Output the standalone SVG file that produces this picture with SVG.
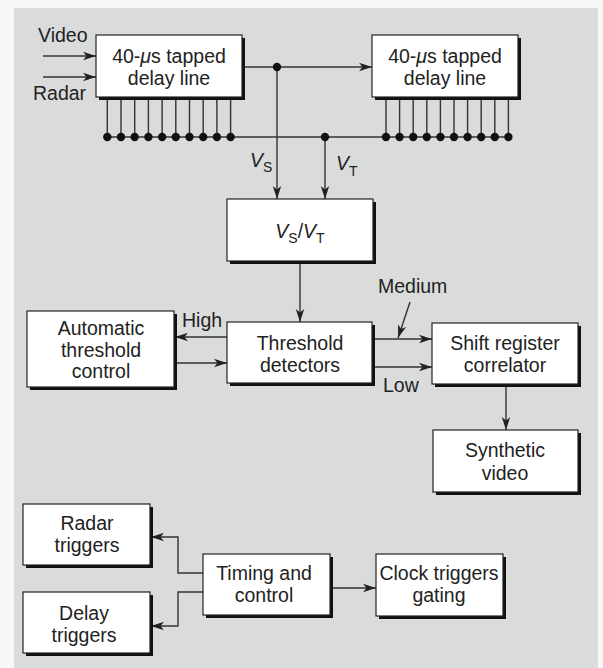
<svg xmlns="http://www.w3.org/2000/svg" width="603" height="668" viewBox="0 0 603 668">
<defs>
<marker id="ah" markerWidth="14" markerHeight="10" refX="13" refY="5" orient="auto" markerUnits="userSpaceOnUse">
<path d="M0,0.8 L13,5 L0,9.2 L3.5,5 z" fill="#222"/>
</marker>
<style>
.sh{fill:#111}
.bx{fill:#fff;stroke:#222;stroke-width:1.2}
.t{font-family:"Liberation Sans",Arial,sans-serif;font-size:19.5px;fill:#222;text-anchor:middle}
.l{font-family:"Liberation Sans",Arial,sans-serif;font-size:19.5px;fill:#222}
.sub{font-size:14px}
.c{fill:none;stroke:#333;stroke-width:1.4}
.a{fill:none;stroke:#333;stroke-width:1.4;marker-end:url(#ah)}
.d{fill:#111}
</style>
</defs>
<rect x="0" y="0" width="603" height="668" fill="#f7f7f6"/>
<rect x="14" y="8" width="584" height="660" fill="#dadbdb"/>

<g id="connectors">
<line class="a" x1="43" y1="56" x2="96" y2="56"/>
<line class="a" x1="43" y1="77" x2="96" y2="77"/>
<line class="a" x1="242" y1="67" x2="372" y2="67"/>
<line class="a" x1="277" y1="67" x2="277" y2="199"/>
<line class="c" x1="107" y1="137" x2="508" y2="137"/>
<line class="a" x1="325" y1="137" x2="325" y2="199"/>
<path class="c" d="M107.3,97V137M121,97V137M134.7,97V137M148.4,97V137M162.1,97V137M175.8,97V137M189.5,97V137M203.2,97V137M216.9,97V137M230.6,97V137"/>
<path class="c" d="M386,97V137M399.6,97V137M413.2,97V137M426.8,97V137M440.4,97V137M454,97V137M467.6,97V137M481.2,97V137M494.8,97V137M508.4,97V137"/>
<g class="d">
<circle cx="107.3" cy="137" r="4.2"/><circle cx="121" cy="137" r="4.2"/><circle cx="134.7" cy="137" r="4.2"/><circle cx="148.4" cy="137" r="4.2"/><circle cx="162.1" cy="137" r="4.2"/><circle cx="175.8" cy="137" r="4.2"/><circle cx="189.5" cy="137" r="4.2"/><circle cx="203.2" cy="137" r="4.2"/><circle cx="216.9" cy="137" r="4.2"/><circle cx="230.6" cy="137" r="4.2"/>
<circle cx="386" cy="137" r="4.2"/><circle cx="399.6" cy="137" r="4.2"/><circle cx="413.2" cy="137" r="4.2"/><circle cx="426.8" cy="137" r="4.2"/><circle cx="440.4" cy="137" r="4.2"/><circle cx="454" cy="137" r="4.2"/><circle cx="467.6" cy="137" r="4.2"/><circle cx="481.2" cy="137" r="4.2"/><circle cx="494.8" cy="137" r="4.2"/><circle cx="508.4" cy="137" r="4.2"/>
<circle cx="277" cy="67" r="4.2"/><circle cx="325" cy="137" r="4.2"/>
</g>
<line class="a" x1="300" y1="262" x2="300" y2="322"/>
<line class="a" x1="227" y1="337" x2="175" y2="337"/>
<line class="a" x1="175" y1="363" x2="227" y2="363"/>
<line class="a" x1="372" y1="339" x2="432" y2="339"/>
<line class="a" x1="372" y1="367" x2="432" y2="367"/>
<line class="a" x1="410" y1="302" x2="398" y2="338"/>
<line class="a" x1="506" y1="385" x2="506" y2="430"/>
<polyline class="a" points="203,573 178,573 178,537 151,537"/>
<polyline class="a" points="203,592 178,592 178,626 151,626"/>
<line class="a" x1="330" y1="588" x2="376" y2="588"/>
</g>

<g id="labels">
<text class="l" x="38" y="42">Video</text>
<text class="l" x="33" y="100">Radar</text>
<text class="l" x="250" y="167"><tspan font-style="italic">V</tspan><tspan class="sub" dy="5">S</tspan></text>
<text class="l" x="336" y="170"><tspan font-style="italic">V</tspan><tspan class="sub" dy="6">T</tspan></text>
<text class="l" x="182" y="327">High</text>
<text class="l" x="378" y="293">Medium</text>
<text class="l" x="383" y="392">Low</text>
</g>

<g id="delay1">
<rect class="sh" x="99" y="38" width="146" height="62"/>
<rect class="bx" x="96" y="35" width="146" height="62"/>
<text class="t" x="169" y="63">40-<tspan font-style="italic">μ</tspan>s tapped</text>
<text class="t" x="169" y="85">delay line</text>
</g>
<g id="delay2">
<rect class="sh" x="375" y="38" width="146" height="62"/>
<rect class="bx" x="372" y="35" width="146" height="62"/>
<text class="t" x="445" y="63">40-<tspan font-style="italic">μ</tspan>s tapped</text>
<text class="t" x="445" y="85">delay line</text>
</g>
<g id="ratio">
<rect class="sh" x="230" y="202" width="146" height="62"/>
<rect class="bx" x="227" y="199" width="146" height="62"/>
<text class="t" x="300" y="238"><tspan font-style="italic">V</tspan><tspan class="sub" dy="5">S</tspan><tspan dy="-5">/</tspan><tspan font-style="italic">V</tspan><tspan class="sub" dy="5">T</tspan></text>
</g>
<g id="atc">
<rect class="sh" x="30" y="314" width="147" height="76"/>
<rect class="bx" x="27" y="311" width="147" height="76"/>
<text class="t" x="101" y="335">Automatic</text>
<text class="t" x="101" y="357">threshold</text>
<text class="t" x="101" y="378">control</text>
</g>
<g id="threshold">
<rect class="sh" x="230" y="325" width="145" height="61"/>
<rect class="bx" x="227" y="322" width="145" height="61"/>
<text class="t" x="300" y="350">Threshold</text>
<text class="t" x="300" y="372">detectors</text>
</g>
<g id="shiftreg">
<rect class="sh" x="435" y="326" width="146" height="61"/>
<rect class="bx" x="432" y="323" width="146" height="61"/>
<text class="t" x="505" y="350">Shift register</text>
<text class="t" x="505" y="372">correlator</text>
</g>
<g id="synthetic">
<rect class="sh" x="436" y="433" width="145" height="62"/>
<rect class="bx" x="433" y="430" width="145" height="62"/>
<text class="t" x="505" y="457">Synthetic</text>
<text class="t" x="505" y="480">video</text>
</g>
<g id="radartrig">
<rect class="sh" x="26" y="507" width="127" height="61"/>
<rect class="bx" x="23" y="504" width="127" height="61"/>
<text class="t" x="87" y="530">Radar</text>
<text class="t" x="87" y="552">triggers</text>
</g>
<g id="delaytrig">
<rect class="sh" x="26" y="595" width="127" height="61"/>
<rect class="bx" x="23" y="592" width="127" height="61"/>
<text class="t" x="84" y="620">Delay</text>
<text class="t" x="84" y="642">triggers</text>
</g>
<g id="timing">
<rect class="sh" x="206" y="557" width="127" height="61"/>
<rect class="bx" x="203" y="554" width="127" height="61"/>
<text class="t" x="264" y="580">Timing and</text>
<text class="t" x="264" y="602">control</text>
</g>
<g id="clock">
<rect class="sh" x="379" y="557" width="127" height="62"/>
<rect class="bx" x="376" y="554" width="127" height="62"/>
<text class="t" x="439" y="580">Clock triggers</text>
<text class="t" x="439" y="602">gating</text>
</g>
</svg>
